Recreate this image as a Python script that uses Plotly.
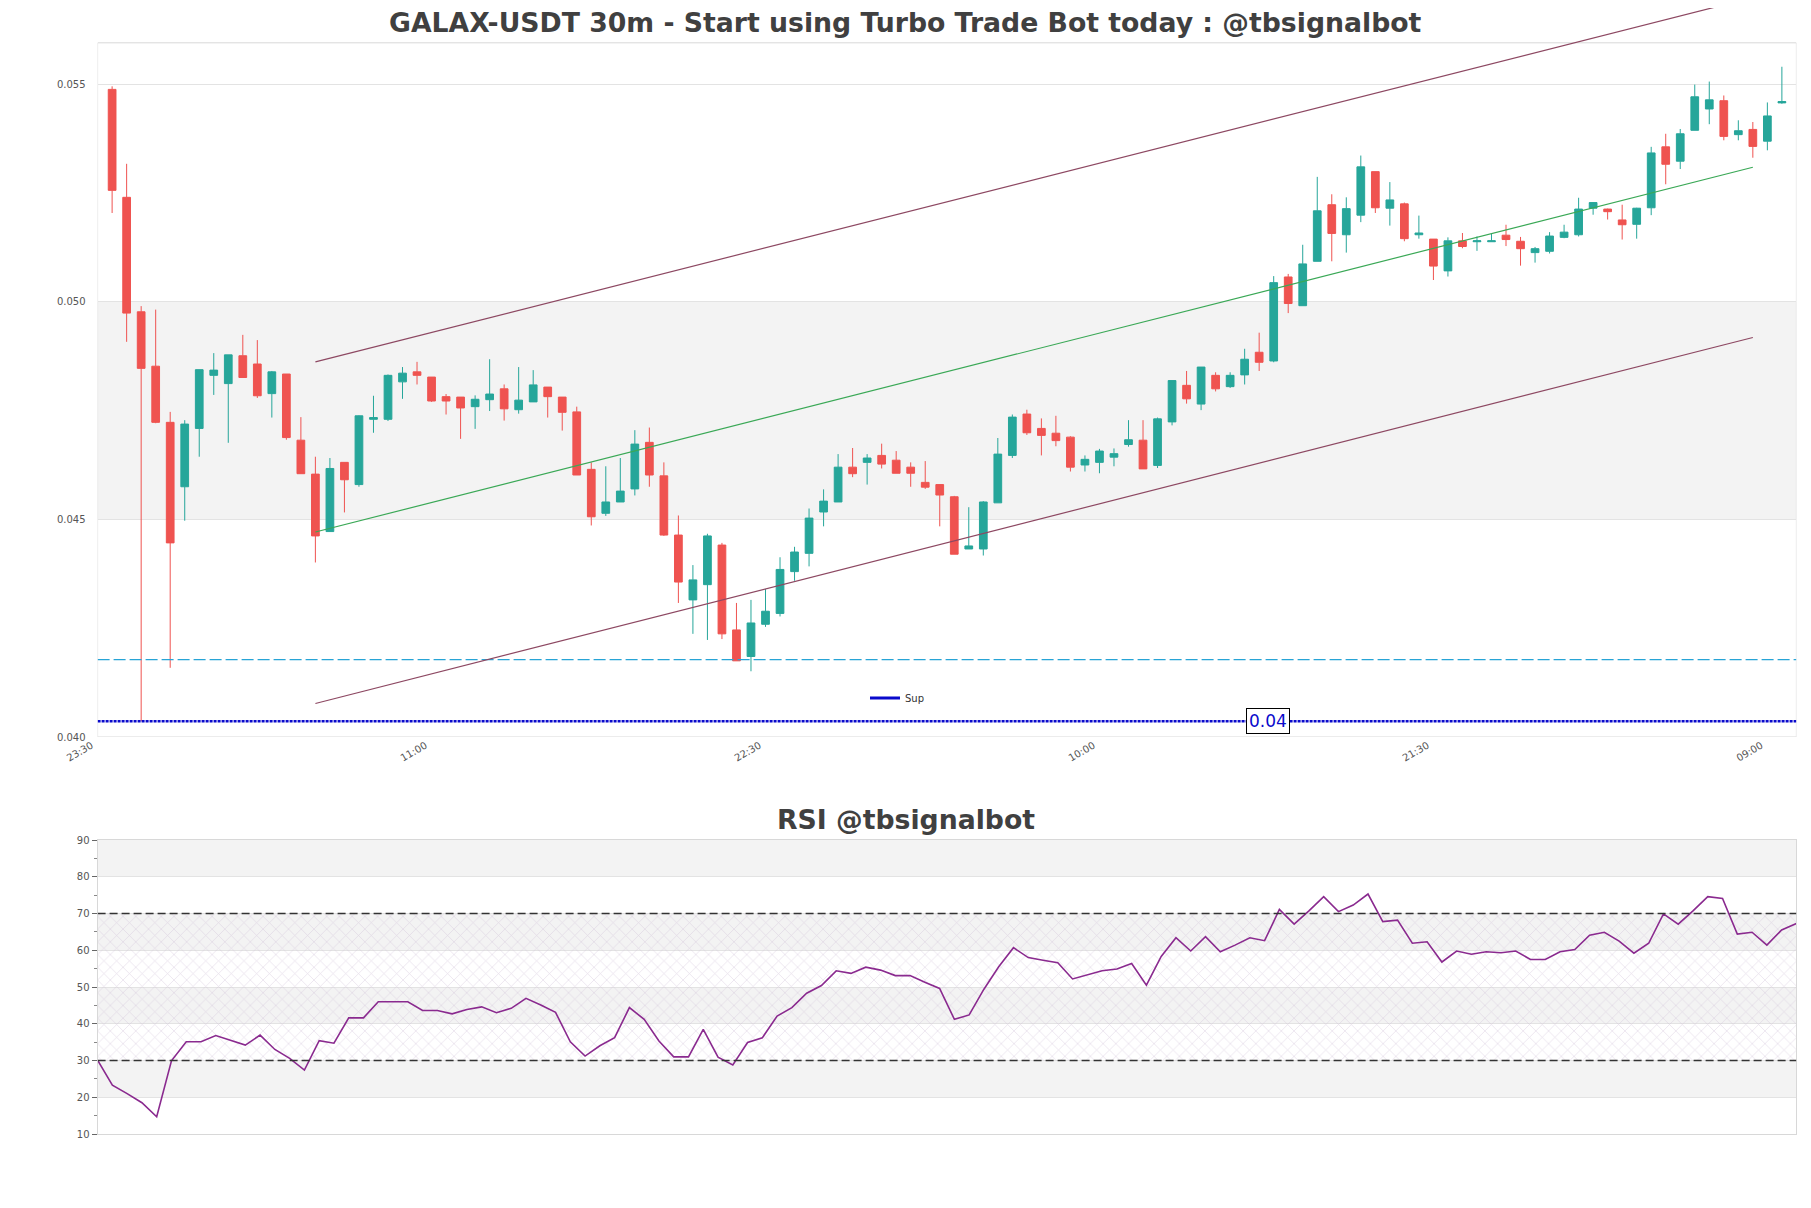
"""
GALAX-USDT 30m chart with RSI panel, rebuilt with plotly
"""

import plotly.graph_objects as go

# --- data -------------------------------------------------------------------

TICK_POS = [0, 23, 46, 69, 92, 115]
TICK_TEXT = ['23:30', '11:00', '22:30', '10:00', '21:30', '09:00']

CANDLE_X = list(range(1, 117))

OPEN = [
    0.05488, 0.05240, 0.04977, 0.04852, 0.04723, 0.04575, 0.04709, 0.04831, 0.04812, 0.04876,
    0.04857, 0.04789, 0.04834, 0.04682, 0.04604, 0.04472, 0.04631, 0.04580, 0.04730, 0.04730,
    0.04816, 0.04839, 0.04827, 0.04782, 0.04781, 0.04759, 0.04775, 0.04800, 0.04752, 0.04770,
    0.04804, 0.04781, 0.04747, 0.04615, 0.04514, 0.04540, 0.04570, 0.04677, 0.04600, 0.04464,
    0.04315, 0.04350, 0.04441, 0.04246, 0.04185, 0.04259, 0.04284, 0.04380, 0.04422, 0.04517,
    0.04540, 0.04620, 0.04631, 0.04647, 0.04636, 0.04620, 0.04585, 0.04580, 0.04552, 0.04432,
    0.04432, 0.04538, 0.04647, 0.04742, 0.04709, 0.04698, 0.04689, 0.04625, 0.04631, 0.04643,
    0.04672, 0.04682, 0.04624, 0.04724, 0.04808, 0.04765, 0.04831, 0.04805, 0.04832, 0.04884,
    0.04864, 0.05057, 0.04991, 0.05093, 0.05223, 0.05154, 0.05199, 0.05299, 0.05215, 0.05225,
    0.05154, 0.05144, 0.05071, 0.05140, 0.05138, 0.05138, 0.05153, 0.05139, 0.05113, 0.05116,
    0.05148, 0.05154, 0.05215, 0.05213, 0.05188, 0.05178, 0.05216, 0.05356, 0.05323, 0.05394,
    0.05443, 0.05462, 0.05384, 0.05396, 0.05369, 0.05457,
]
HIGH = [
    0.05495, 0.05317, 0.04990, 0.04982, 0.04747, 0.04728, 0.04844, 0.04882, 0.04878, 0.04924,
    0.04912, 0.04841, 0.04834, 0.04735, 0.04644, 0.04641, 0.04631, 0.04739, 0.04784, 0.04833,
    0.04850, 0.04862, 0.04827, 0.04788, 0.04781, 0.04785, 0.04868, 0.04810, 0.04850, 0.04843,
    0.04804, 0.04781, 0.04759, 0.04631, 0.04622, 0.04641, 0.04705, 0.04711, 0.04631, 0.04509,
    0.04395, 0.04467, 0.04446, 0.04308, 0.04315, 0.04340, 0.04413, 0.04437, 0.04525, 0.04569,
    0.04650, 0.04664, 0.04650, 0.04674, 0.04657, 0.04631, 0.04634, 0.04580, 0.04554, 0.04528,
    0.04542, 0.04687, 0.04741, 0.04752, 0.04732, 0.04738, 0.04691, 0.04647, 0.04662, 0.04663,
    0.04728, 0.04728, 0.04734, 0.04819, 0.04841, 0.04850, 0.04838, 0.04838, 0.04892, 0.04929,
    0.05059, 0.05064, 0.05131, 0.05287, 0.05247, 0.05240, 0.05336, 0.05299, 0.05275, 0.05228,
    0.05198, 0.05144, 0.05148, 0.05158, 0.05150, 0.05156, 0.05177, 0.05149, 0.05126, 0.05160,
    0.05177, 0.05239, 0.05228, 0.05214, 0.05223, 0.05216, 0.05356, 0.05386, 0.05397, 0.05499,
    0.05506, 0.05474, 0.05417, 0.05413, 0.05458, 0.05540,
]
LOW = [
    0.05204, 0.04908, 0.04036, 0.04721, 0.04159, 0.04497, 0.04644, 0.04786, 0.04676, 0.04826,
    0.04779, 0.04734, 0.04683, 0.04605, 0.04401, 0.04472, 0.04516, 0.04575, 0.04699, 0.04726,
    0.04777, 0.04810, 0.04770, 0.04741, 0.04685, 0.04708, 0.04749, 0.04727, 0.04743, 0.04770,
    0.04734, 0.04704, 0.04602, 0.04486, 0.04508, 0.04540, 0.04555, 0.04575, 0.04462, 0.04308,
    0.04237, 0.04223, 0.04225, 0.04175, 0.04151, 0.04253, 0.04277, 0.04359, 0.04392, 0.04484,
    0.04540, 0.04597, 0.04580, 0.04617, 0.04606, 0.04575, 0.04570, 0.04484, 0.04420, 0.04432,
    0.04417, 0.04538, 0.04641, 0.04694, 0.04647, 0.04668, 0.04610, 0.04610, 0.04606, 0.04622,
    0.04667, 0.04616, 0.04618, 0.04716, 0.04766, 0.04751, 0.04794, 0.04802, 0.04810, 0.04841,
    0.04861, 0.04974, 0.04991, 0.05093, 0.05093, 0.05113, 0.05183, 0.05204, 0.05175, 0.05139,
    0.05145, 0.05050, 0.05058, 0.05123, 0.05117, 0.05138, 0.05128, 0.05083, 0.05090, 0.05111,
    0.05146, 0.05150, 0.05200, 0.05189, 0.05143, 0.05145, 0.05199, 0.05270, 0.05305, 0.05394,
    0.05408, 0.05371, 0.05371, 0.05331, 0.05348, 0.05455,
]
CLOSE = [
    0.05256, 0.04974, 0.04847, 0.04723, 0.04446, 0.04719, 0.04844, 0.04843, 0.04878, 0.04826,
    0.04784, 0.04839, 0.04688, 0.04605, 0.04462, 0.04617, 0.04591, 0.04738, 0.04734, 0.04831,
    0.04836, 0.04831, 0.04772, 0.04772, 0.04756, 0.04776, 0.04788, 0.04754, 0.04774, 0.04809,
    0.04782, 0.04746, 0.04602, 0.04506, 0.04540, 0.04565, 0.04673, 0.04602, 0.04464, 0.04356,
    0.04361, 0.04462, 0.04237, 0.04175, 0.04262, 0.04289, 0.04385, 0.04425, 0.04503, 0.04542,
    0.04620, 0.04605, 0.04641, 0.04627, 0.04606, 0.04606, 0.04574, 0.04556, 0.04420, 0.04439,
    0.04540, 0.04650, 0.04735, 0.04699, 0.04693, 0.04681, 0.04620, 0.04638, 0.04657, 0.04651,
    0.04683, 0.04616, 0.04731, 0.04819, 0.04777, 0.04850, 0.04800, 0.04831, 0.04868, 0.04861,
    0.05044, 0.04996, 0.05087, 0.05209, 0.05157, 0.05214, 0.05310, 0.05216, 0.05234, 0.05145,
    0.05158, 0.05082, 0.05140, 0.05127, 0.05140, 0.05140, 0.05143, 0.05122, 0.05122, 0.05151,
    0.05160, 0.05213, 0.05228, 0.05207, 0.05177, 0.05215, 0.05342, 0.05316, 0.05386, 0.05471,
    0.05464, 0.05380, 0.05393, 0.05357, 0.05427, 0.05460,
]

# trend channel (start / end candle index and prices)
CHANNEL_X = [15, 114]
CHANNEL_UPPER = [0.04862, 0.05699]
CHANNEL_MID = [0.04471, 0.05309]
CHANNEL_LOWER = [0.04077, 0.04918]

SUP_LEVEL = 0.04036
SUP_LABEL = '0.04'
DASH_LEVEL = 0.04178

RSI = [
    30.1, 23.3, 21.0, 18.5, 14.7, 29.9, 35.1, 35.1, 36.8, 35.6,
    34.2, 36.9, 33.0, 30.6, 27.4, 35.4, 34.7, 41.6, 41.6, 46.0,
    46.0, 46.0, 43.6, 43.6, 42.7, 43.9, 44.6, 43.0, 44.2, 46.9,
    45.1, 43.1, 35.1, 31.2, 34.0, 36.2, 44.4, 41.2, 35.3, 31.0,
    31.0, 38.5, 30.9, 28.8, 34.9, 36.2, 42.1, 44.4, 48.3, 50.4,
    54.4, 53.7, 55.4, 54.6, 53.1, 53.1, 51.3, 49.6, 41.2, 42.4,
    49.4, 55.5, 60.7, 58.0, 57.3, 56.6, 52.2, 53.3, 54.4, 54.9,
    56.4, 50.5, 58.3, 63.4, 59.8, 63.7, 59.6, 61.4, 63.4, 62.6,
    71.1, 67.1, 70.7, 74.6, 70.5, 72.3, 75.3, 67.8, 68.2, 61.9,
    62.3, 56.8, 59.8, 58.9, 59.6, 59.3, 59.8, 57.5, 57.5, 59.6,
    60.2, 64.1, 64.9, 62.5, 59.2, 61.9, 69.9, 67.1, 70.7, 74.6,
    74.1, 64.4, 64.9, 61.4, 65.5, 67.3,
]
RSI_X = list(range(len(RSI)))
RSI_LOW, RSI_HIGH = 30, 70
RSI_BANDS = [(20, 30), (40, 50), (60, 70), (80, 90)]

PRICE_BAND = (0.045, 0.050)
PRICE_TICKS = [0.040, 0.045, 0.050, 0.055]
PRICE_TOP = 0.05595

# --- styling ----------------------------------------------------------------

FONT = 'DejaVu Sans'
GREEN = '#26a69a'
RED = '#ef5350'
CHANNEL_COLOR = '#8d4862'
MID_COLOR = '#3aa856'
SUP_COLOR = '#0a0acc'
GRID = '#e3e3e3'
BAND = '#f3f3f3'
FRAME = '#d8d8d8'

W, H = 1811, 1208
PAGE_MARGIN = 8  # the html body adds this offset around the figure


def px_x(px):
    return (px - PAGE_MARGIN) / W


def px_y(py):
    return 1 - (py - PAGE_MARGIN) / H


X_DOMAIN = [px_x(97.6), px_x(1796.4)]

fig = go.Figure()

# price panel lines (drawn under the candles)
fig.add_trace(go.Scatter(
    x=[0, 117], y=[DASH_LEVEL, DASH_LEVEL], mode='lines',
    line=dict(color='#27a4d6', width=1.3, dash='12px,4px'),
    hoverinfo='skip', showlegend=False,
))
fig.add_trace(go.Scatter(
    x=[0, 117], y=[SUP_LEVEL, SUP_LEVEL], mode='lines',
    line=dict(color=SUP_COLOR, width=2.5, dash='3px,1px'),
    hoverinfo='skip', showlegend=False,
))
for ys, col in [(CHANNEL_UPPER, CHANNEL_COLOR), (CHANNEL_MID, MID_COLOR), (CHANNEL_LOWER, CHANNEL_COLOR)]:
    fig.add_trace(go.Scatter(
        x=CHANNEL_X, y=ys, mode='lines', line=dict(color=col, width=1.2),
        hoverinfo='skip', showlegend=False,
    ))

fig.add_trace(go.Candlestick(
    x=CANDLE_X, open=OPEN, high=HIGH, low=LOW, close=CLOSE,
    increasing=dict(line=dict(color=GREEN, width=1), fillcolor=GREEN),
    decreasing=dict(line=dict(color=RED, width=1), fillcolor=RED),
    whiskerwidth=0, showlegend=False,
))

# legend entry for the support line
fig.add_trace(go.Scatter(
    x=[None], y=[None], mode='lines', name='Sup',
    line=dict(color=SUP_COLOR, width=3),
))

# RSI panel
fig.add_trace(go.Scatter(
    x=[RSI_X[0], RSI_X[-1], RSI_X[-1], RSI_X[0], RSI_X[0]],
    y=[RSI_LOW, RSI_LOW, RSI_HIGH, RSI_HIGH, RSI_LOW],
    xaxis='x2', yaxis='y2', mode='lines', line=dict(width=0),
    fill='toself', fillcolor='rgba(0,0,0,0)',
    fillpattern=dict(shape='x', fgcolor='#cbbcd4', size=9, solidity=0.15),
    hoverinfo='skip', showlegend=False,
))
fig.add_trace(go.Scatter(
    x=RSI_X, y=RSI, xaxis='x2', yaxis='y2', mode='lines',
    line=dict(color='#8a2a8f', width=1.6),
    showlegend=False,
))

shapes = [
    dict(type='rect', xref='x', yref='y', x0=0, x1=117, y0=PRICE_BAND[0], y1=PRICE_BAND[1],
         fillcolor=BAND, line=dict(width=0), layer='below'),
    dict(type='rect', xref='x', yref='y', x0=0, x1=117, y0=PRICE_TICKS[0], y1=PRICE_TOP,
         fillcolor='rgba(0,0,0,0)', line=dict(color=FRAME, width=1), layer='below'),
]
for lo, hi in RSI_BANDS:
    shapes.append(dict(type='rect', xref='x2', yref='y2', x0=RSI_X[0], x1=RSI_X[-1], y0=lo, y1=hi,
                       fillcolor=BAND, line=dict(width=0), layer='below'))
for lvl in (RSI_LOW, RSI_HIGH):
    shapes.append(dict(type='line', xref='x2', yref='y2', x0=RSI_X[0], x1=RSI_X[-1], y0=lvl, y1=lvl,
                       line=dict(color='#333333', width=1.3, dash='8px,4px'), layer='above'))

annotations = [
    dict(text='<b>GALAX-USDT 30m - Start using Turbo Trade Bot today : @tbsignalbot</b>',
         xref='paper', yref='paper', x=px_x(905.5), y=px_y(23), showarrow=False,
         font=dict(family=FONT, size=26.7, color='#404040'), xanchor='center', yanchor='middle'),
    dict(text='<b>RSI @tbsignalbot</b>',
         xref='paper', yref='paper', x=px_x(905.5), y=px_y(819), showarrow=False,
         font=dict(family=FONT, size=26.7, color='#404040'), xanchor='center', yanchor='middle'),
    dict(text=SUP_LABEL, xref='x', yref='y', x=80.6, y=SUP_LEVEL, showarrow=False,
         font=dict(family=FONT, size=17, color=SUP_COLOR), bgcolor='white',
         bordercolor='black', borderwidth=1, borderpad=2),
]

tick_font = dict(family=FONT, size=10, color='#555555')

fig.update_layout(
    width=W, height=H,
    margin=dict(l=0, r=0, t=0, b=0, autoexpand=False),
    paper_bgcolor='white', plot_bgcolor='rgba(0,0,0,0)',
    font=dict(family=FONT, size=10, color='#444444'),
    boxgap=0.24,
    shapes=shapes, annotations=annotations,
    showlegend=True,
    legend=dict(x=px_x(865), y=px_y(698), xanchor='left', yanchor='middle',
                bgcolor='rgba(0,0,0,0)', font=dict(family=FONT, size=10, color='#333333')),
    xaxis=dict(
        domain=X_DOMAIN, range=[0, 117], anchor='y', automargin=False,
        tickmode='array', tickvals=TICK_POS, ticktext=TICK_TEXT, tickangle=-30,
        ticklabelshift=-6,
        showgrid=False, zeroline=False, showline=False, ticks='',
        tickfont=tick_font, rangeslider=dict(visible=False),
    ),
    yaxis=dict(
        domain=[px_y(737), 1.0], range=[0.040, 0.05675], anchor='x', automargin=False,
        tickmode='array', tickvals=PRICE_TICKS, ticktext=['%.3f' % v for v in PRICE_TICKS],
        gridcolor=GRID, zeroline=False, showline=False, ticks='',
        ticklabelstandoff=11, tickfont=tick_font,
    ),
    xaxis2=dict(
        domain=X_DOMAIN, range=[RSI_X[0], RSI_X[-1]], anchor='y2', automargin=False,
        showticklabels=False, showgrid=False, zeroline=False,
        showline=True, mirror=True, linecolor=FRAME, ticks='',
    ),
    yaxis2=dict(
        domain=[px_y(1134), px_y(840)], range=[10, 90], anchor='x2', automargin=False,
        dtick=10, gridcolor=GRID, zeroline=False,
        showline=True, mirror=True, linecolor=FRAME,
        ticks='outside', ticklen=5, tickcolor='#666666', tickfont=tick_font,
        minor=dict(dtick=5, ticks='outside', ticklen=3, tickcolor='#888888', showgrid=False),
    ),
)

fig.write_html('out.html')
